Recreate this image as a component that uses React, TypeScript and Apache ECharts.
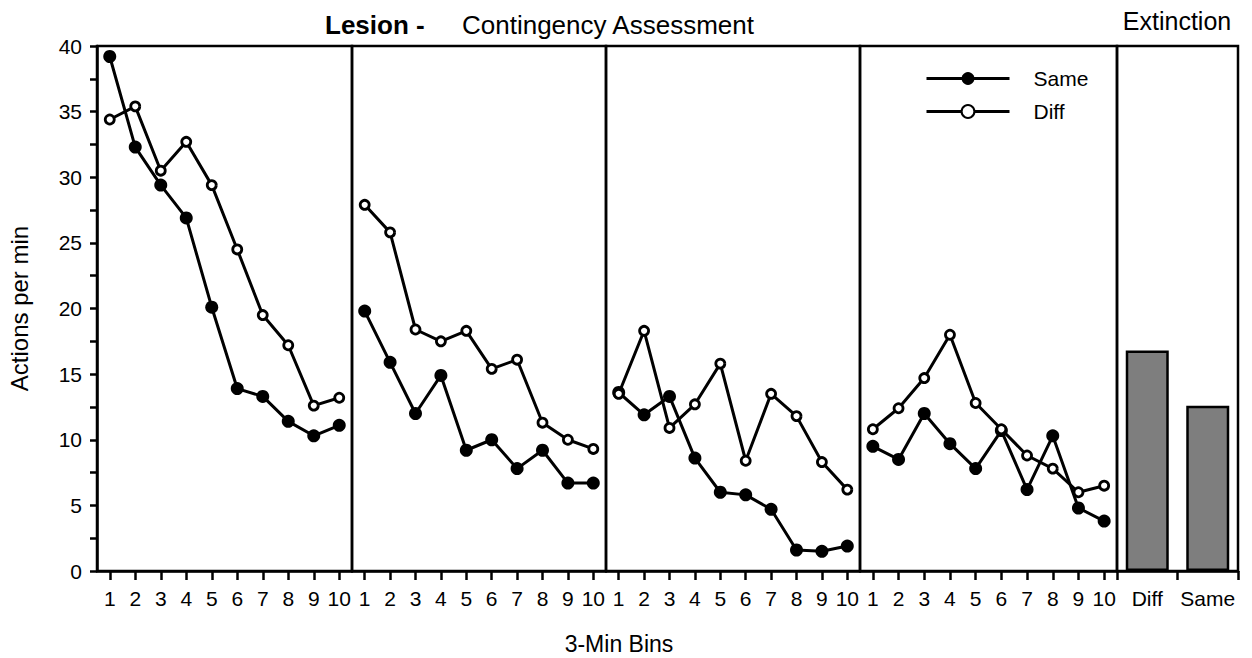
import React, { useEffect, useRef } from "react";
import * as echarts from "echarts";

const bins = ["1", "2", "3", "4", "5", "6", "7", "8", "9", "10"];
const same1 = [39.2, 32.3, 29.4, 26.9, 20.1, 13.9, 13.3, 11.4, 10.3, 11.1];
const diff1 = [34.4, 35.4, 30.5, 32.7, 29.4, 24.5, 19.5, 17.2, 12.6, 13.2];
const same2 = [19.8, 15.9, 12.0, 14.9, 9.2, 10.0, 7.8, 9.2, 6.7, 6.7];
const diff2 = [27.9, 25.8, 18.4, 17.5, 18.3, 15.4, 16.1, 11.3, 10.0, 9.3];
const same3 = [13.6, 11.9, 13.3, 8.6, 6.0, 5.8, 4.7, 1.6, 1.5, 1.9];
const diff3 = [13.5, 18.3, 10.9, 12.7, 15.8, 8.4, 13.5, 11.8, 8.3, 6.2];
const same4 = [9.5, 8.5, 12.0, 9.7, 7.8, 10.7, 6.2, 10.3, 4.8, 3.8];
const diff4 = [10.8, 12.4, 14.7, 18.0, 12.8, 10.8, 8.8, 7.8, 6.0, 6.5];
const extCats = ["Diff", "Same"];
const extValues = [16.8, 12.6];

const sameSets = [same1, same2, same3, same4];
const diffSets = [diff1, diff2, diff3, diff4];

const FONT = "'Liberation Sans', Arial, Helvetica, sans-serif";

export default function App() {
  const ref = useRef<HTMLDivElement>(null);
  useEffect(() => {
    if (!ref.current) return;
    const chart = echarts.init(ref.current, undefined, { renderer: "svg" });

    const top = 46;
    const height = 525;
    const panels = [
      { left: 97, width: 255 },
      { left: 352, width: 254 },
      { left: 606, width: 254 },
      { left: 860, width: 257 },
      { left: 1117, width: 121 },
    ];

    const grid = panels.map((p) => ({
      left: p.left,
      width: p.width,
      top,
      height,
      show: true,
      borderColor: "#000",
      borderWidth: 2.5,
      backgroundColor: "transparent",
    }));

    const axisLine = { show: true, lineStyle: { color: "#000", width: 2.5 } };

    const xAxis: any[] = panels.map((p, i) => ({
      type: "category",
      gridIndex: i,
      data: i < 4 ? bins : extCats,
      boundaryGap: true,
      axisLine,
      axisTick: {
        show: true,
        alignWithLabel: i < 4,
        inside: false,
        length: 9,
        lineStyle: { color: "#000", width: 2.5 },
      },
      axisLabel: {
        color: "#000",
        fontSize: 21,
        fontFamily: FONT,
        margin: 17,
        interval: 0,
      },
      splitLine: { show: false },
    }));

    const yAxis: any[] = panels.map((p, i) => ({
      type: "value",
      gridIndex: i,
      min: 0,
      max: 40,
      interval: 5,
      show: i === 0,
      name: i === 0 ? "Actions per min" : "",
      nameLocation: "middle",
      nameGap: 66,
      nameRotate: 90,
      nameTextStyle: { color: "#000", fontSize: 24, fontFamily: FONT },
      axisLine,
      axisTick: { show: true, length: 7, lineStyle: { color: "#000", width: 2.5 } },
      minorTick: { show: true, splitNumber: 2, length: 7, lineStyle: { color: "#000", width: 2.5 } },
      axisLabel: { color: "#000", fontSize: 21, fontFamily: FONT, margin: 15 },
      splitLine: { show: false },
      minorSplitLine: { show: false },
    }));

    const series: any[] = [];
    for (let i = 0; i < 4; i++) {
      series.push({
        name: "Same",
        type: "line",
        xAxisIndex: i,
        yAxisIndex: i,
        data: sameSets[i],
        symbol: "circle",
        symbolSize: 13,
        itemStyle: { color: "#000", borderColor: "#000", borderWidth: 0 },
        lineStyle: { color: "#000", width: 3 },
        z: 2,
      });
      series.push({
        name: "Diff",
        type: "line",
        xAxisIndex: i,
        yAxisIndex: i,
        data: diffSets[i],
        symbol: "circle",
        symbolSize: 9,
        itemStyle: { color: "#fff", borderColor: "#000", borderWidth: 2.8 },
        lineStyle: { color: "#000", width: 3 },
        z: 3,
      });
    }
    series.push({
      name: "Extinction",
      type: "bar",
      xAxisIndex: 4,
      yAxisIndex: 4,
      data: extValues,
      barWidth: 43,
      itemStyle: { color: "#7e7e7e", borderColor: "#000", borderWidth: 2.5 },
    });

    chart.setOption({
      animation: false,
      backgroundColor: "#fff",
      grid,
      xAxis,
      yAxis,
      series,
      legend: {
        data: ["Same", "Diff"],
        orient: "vertical",
        left: 920,
        top: 63,
        itemWidth: 83,
        itemHeight: 16,
        itemGap: 12,
        selectedMode: false,
        lineStyle: { width: 3, color: "#000" },
        textStyle: {
          color: "#000",
          fontSize: 21,
          fontFamily: FONT,
          padding: [0, 0, 0, 19],
        },
      },
      graphic: [
        {
          type: "text",
          x: 325,
          y: 25,
          style: {
            text: "Lesion -",
            fontSize: 26,
            fontWeight: "bold",
            fontFamily: FONT,
            fill: "#000",
            align: "left",
            verticalAlign: "middle",
          },
        },
        {
          type: "text",
          x: 462,
          y: 25,
          style: {
            text: "Contingency Assessment",
            fontSize: 26,
            fontFamily: FONT,
            fill: "#000",
            align: "left",
            verticalAlign: "middle",
          },
        },
        {
          type: "text",
          x: 1177,
          y: 21,
          style: {
            text: "Extinction",
            fontSize: 25,
            fontFamily: FONT,
            fill: "#000",
            align: "center",
            verticalAlign: "middle",
          },
        },
        {
          type: "text",
          x: 619,
          y: 644,
          style: {
            text: "3-Min Bins",
            fontSize: 23,
            fontFamily: FONT,
            fill: "#000",
            align: "center",
            verticalAlign: "middle",
          },
        },
      ],
    });
    return () => chart.dispose();
  }, []);
  return (
    <div
      ref={ref}
      style={{ position: "fixed", left: 0, top: 0, width: 1252, height: 658, background: "#fff" }}
    />
  );
}
